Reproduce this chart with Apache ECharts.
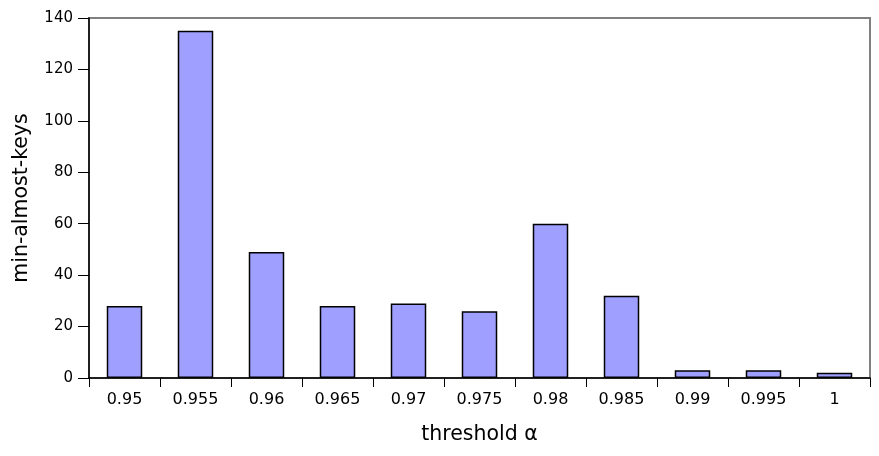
<!DOCTYPE html>
<html>
<head>
<meta charset="utf-8">
<script src="https://cdn.jsdelivr.net/npm/echarts@6/dist/echarts.min.js"></script>
<style>
  html, body { margin: 0; padding: 0; background: #fff; }
  #chart { width: 879px; height: 456px; }
</style>
</head>
<body>
<div id="chart"></div>
<script>
const categories = ['0.95', '0.955', '0.96', '0.965', '0.97', '0.975', '0.98', '0.985', '0.99', '0.995', '1'];
const minAlmostKeys = [28, 135, 49, 28, 29, 26, 60, 32, 3, 3, 2];
const yTicks = [0, 20, 40, 60, 80, 100, 120, 140];

const chart = echarts.init(document.getElementById('chart'));
const font = 'DejaVu Sans';

chart.setOption({
  animation: false,
  grid: {
    left: 89,
    right: 9,
    top: 18,
    bottom: 78,
    show: true,
    borderColor: '#808080',
    borderWidth: 2,
    backgroundColor: '#fff'
  },
  xAxis: {
    type: 'category',
    data: categories,
    name: 'threshold α',
    nameLocation: 'middle',
    nameGap: 46,
    nameTextStyle: { fontFamily: font, fontSize: 20.5, color: '#000' },
    axisLine: { lineStyle: { color: '#000', width: 1.5 } },
    axisTick: { show: true, length: 9, inside: false, alignWithLabel: false, lineStyle: { color: '#000' } },
    axisLabel: { fontFamily: font, fontSize: 16, color: '#000', margin: 14 },
    splitLine: { show: false }
  },
  yAxis: {
    type: 'value',
    min: yTicks[0],
    max: yTicks[yTicks.length - 1],
    interval: 20,
    name: 'min-almost-keys',
    nameLocation: 'middle',
    nameGap: 57,
    nameTextStyle: { fontFamily: font, fontSize: 20.5, color: '#000' },
    axisLine: { show: true, lineStyle: { color: '#000', width: 1.5 } },
    axisTick: { show: true, length: 11, lineStyle: { color: '#000' } },
    axisLabel: { fontFamily: font, fontSize: 15, color: '#000', margin: 16 },
    splitLine: { show: false }
  },
  series: [{
    type: 'bar',
    data: minAlmostKeys,
    barWidth: '50%',
    itemStyle: { color: '#9f9fff', borderColor: '#000', borderWidth: 1.5 }
  }]
});
</script>
</body>
</html>
